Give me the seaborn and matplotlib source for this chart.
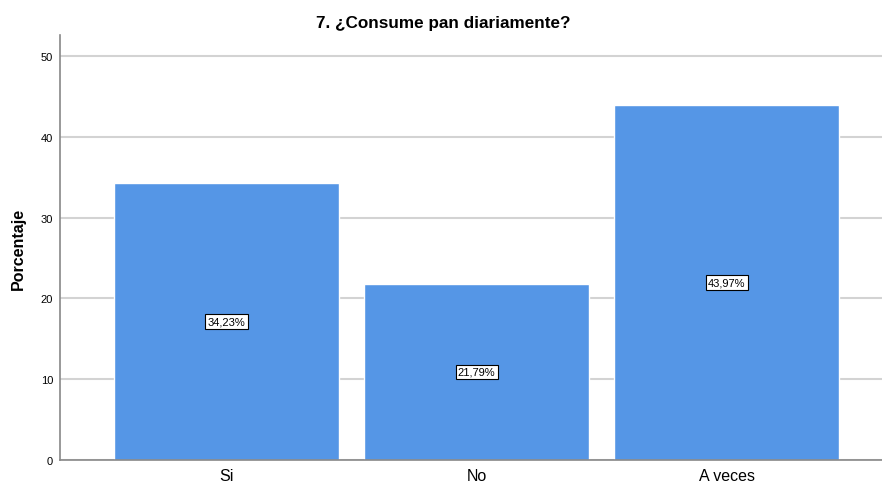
import matplotlib
matplotlib.use("Agg")
import matplotlib.pyplot as plt
import seaborn as sns
import pandas as pd

categories = ["Si", "No", "A veces"]
percentages = [34.23, 21.79, 43.97]
value_labels = ["34,23%", "21,79%", "43,97%"]
y_ticks = [0, 10, 20, 30, 40, 50]

df = pd.DataFrame({"Respuesta": categories, "Porcentaje": percentages})

sns.set_style("white")
plt.rcParams["font.family"] = ["Liberation Sans", "DejaVu Sans"]
plt.rcParams["text.color"] = "black"
plt.rcParams["axes.labelcolor"] = "black"
plt.rcParams["xtick.color"] = "black"
plt.rcParams["ytick.color"] = "black"

fig = plt.figure(figsize=(8.82, 4.85), dpi=100)
ax = fig.add_axes([0.068, 0.0495, 0.932, 0.8763])

sns.barplot(data=df, x="Respuesta", y="Porcentaje", color="#5596e6",
            width=0.9, saturation=1, ax=ax, zorder=2)

ax.set_xlim(-0.666, 2.62)
ax.set_ylim(0, 52.6)
ax.set_yticks(y_ticks)
ax.set_yticklabels([str(t) for t in y_ticks], fontsize=8)
ax.tick_params(axis="y", length=3, color="#888888", pad=2)
ax.tick_params(axis="x", length=0, labelsize=11.5, pad=5.5)
ax.yaxis.grid(True, color="#d3d3d3", linewidth=1.5, zorder=0)
ax.set_axisbelow(True)

for side in ["top", "right"]:
    ax.spines[side].set_visible(False)
for side in ["left", "bottom"]:
    ax.spines[side].set_color("#888888")
    ax.spines[side].set_linewidth(1.2)

for i, (v, lab) in enumerate(zip(percentages, value_labels)):
    ax.text(i, v / 2, lab, ha="center", va="center", fontsize=8,
            bbox=dict(boxstyle="square,pad=0.2", facecolor="white",
                      edgecolor="black", linewidth=0.8), zorder=3)

ax.set_xlabel("")
ax.set_ylabel("Porcentaje", fontsize=11.5, fontweight="bold", labelpad=11)
fig.text(0.503, 0.952, "7. ¿Consume pan diariamente?", ha="center", va="center",
         fontsize=12.3, fontweight="bold")

fig.savefig("out.png", dpi=100)
